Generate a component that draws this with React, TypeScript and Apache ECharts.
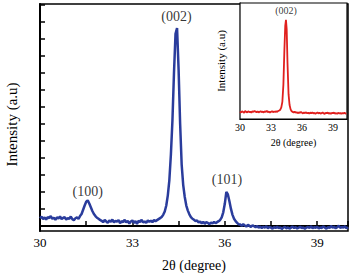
import React, { useEffect, useRef } from "react";
import * as echarts from "echarts";

// Main pattern: sampled every 0.05° from 30° to 40°, intensity (a.u.)
const mainStart = 30;
const mainStep = 0.05;
const mainIntensity = [
  0.45,0.55,0.4,0.5,0.38,0.52,0.46,0.58,0.42,0.48,0.36,0.5,0.44,0.56,0.4,0.47,0.52,0.38,0.46,0.42,0.55,0.4,0.34,0.45,0.5,0.42,0.58,
  0.7,0.95,1.2,1.42,1.5,1.32,1.1,0.88,0.7,0.58,0.48,0.42,0.35,
  0.3,0.22,0.35,0.26,0.18,0.32,0.24,0.38,0.2,0.3,0.25,0.34,0.16,0.28,0.22,0.36,0.2,0.3,0.14,0.26,0.32,0.18,0.28,0.12,0.3,0.22,0.36,0.2,0.26,0.18,0.32,0.24,0.3,0.22,0.35,0.28,0.34,0.4,
  0.46,0.52,0.65,0.85,1.2,1.8,2.7,4.2,6.2,9.0,11.3,11.65,9.2,6.0,3.6,2.4,1.7,1.2,0.9,0.68,0.52,0.42,
  0.36,0.28,0.32,0.2,0.26,0.15,0.24,0.12,0.22,0.18,0.1,0.2,0.14,0.24,0.16,0.22,0.28,0.35,
  0.5,0.8,1.3,2.0,1.85,1.45,1.0,0.65,0.42,0.28,0.18,0.1,
  0.08,0.0,0.1,0.02,-0.04,0.06,0.0,-0.06,0.04,-0.02,
  -0.08,0.0,-0.1,-0.04,-0.12,-0.05,-0.1,-0.02,-0.14,-0.06,
  -0.1,-0.16,-0.08,-0.12,-0.04,-0.14,-0.08,-0.18,-0.1,-0.06,
  -0.14,-0.09,-0.16,-0.1,-0.04,-0.12,-0.08,-0.15,-0.1,-0.05,
  -0.13,-0.08,-0.17,-0.1,-0.06,-0.12,-0.02,-0.14,-0.08,-0.11,
  -0.05,-0.15,-0.09,-0.12,-0.03,-0.1,-0.16,-0.07,-0.12,0.0,
  -0.1,-0.05,-0.14,-0.08,0.02,-0.12,-0.06,-0.1,-0.02,-0.14,-0.08,
];

// Inset pattern
const insetTheta = [30.0,30.1,30.2,30.3,30.4,30.5,30.6,30.7,30.8,30.9,31.0,31.1,31.2,31.3,31.4,31.5,31.6,31.7,31.8,31.9,32.0,32.1,32.2,32.3,32.4,32.5,32.6,32.7,32.8,32.9,33.0,33.1,33.2,33.3,33.4,33.5,33.6,33.7,33.8,33.9,34.0,34.1,34.2,34.3,34.38,34.45,34.52,34.6,34.7,34.8,34.9,35.0,35.1,35.2,35.3,35.4,35.5,35.6,35.7,35.8,35.9,36.0,36.1,36.2,36.3,36.4,36.5,36.6,36.7,36.8,36.9,37.0,37.1,37.2,37.3,37.4,37.5,37.6,37.7,37.8,37.9,38.0,38.1,38.2,38.3,38.4,38.5,38.6,38.7,38.8,38.9,39.0,39.1,39.2,39.3,39.4,39.5,39.6,39.7,39.8,39.9,40.0,40.1,40.2,40.3];
const insetIntensity = [0.48,0.42,0.5,0.45,0.4,0.52,0.46,0.43,0.5,0.44,0.47,0.41,0.5,0.46,0.52,0.48,0.43,0.49,0.42,0.47,0.5,0.44,0.48,0.42,0.5,0.46,0.53,0.44,0.48,0.42,0.47,0.5,0.44,0.49,0.45,0.5,0.46,0.52,0.55,0.6,0.75,1.1,2.2,4.5,6.0,6.4,5.8,3.6,1.6,0.9,0.62,0.5,0.46,0.42,0.48,0.4,0.44,0.38,0.42,0.4,0.45,0.4,0.36,0.42,0.38,0.43,0.37,0.4,0.35,0.41,0.37,0.42,0.36,0.4,0.34,0.39,0.42,0.36,0.4,0.35,0.38,0.42,0.36,0.33,0.4,0.37,0.41,0.35,0.38,0.34,0.4,0.37,0.41,0.35,0.38,0.33,0.4,0.36,0.39,0.34,0.38,0.36,0.4,0.35,0.38];

// Peak annotations
const peakLabels = ["(100)", "(002)", "(101)"];
const peakLabelTheta = [31.55, 34.43, 36.07];
const peakLabelY = [2.0, 12.3, 2.75];
const insetLabel = ["(002)"];
const insetLabelTheta = [34.45];
const insetLabelY = [6.97];

const mainTicks = [0,1,2,3,4,5,6,7,8,9,10,11,12,13];
const xTickLabels = [30, 33, 36, 39];

const FONT = "Liberation Serif";

export default function App() {
  const ref = useRef<HTMLDivElement>(null);
  useEffect(() => {
    if (!ref.current) return;
    const chart = echarts.init(ref.current, null, { renderer: "svg" });
    const axisLine = { lineStyle: { color: "#000", width: 2 } };
    chart.setOption({
      animation: false,
      backgroundColor: "#fff",
      textStyle: { fontFamily: FONT },
      grid: [
        { left: 40, right: 1, top: 4, bottom: 42, show: true, borderColor: "#000", borderWidth: 1.5, z: 0, containLabel: false, outerBoundsMode: "none" },
        { left: 240, right: 2, top: 3, bottom: 154, show: true, backgroundColor: "#fff", borderColor: "#000", borderWidth: 1.2, z: 5, containLabel: false, outerBoundsMode: "none" },
      ],
      xAxis: [
        {
          gridIndex: 0, type: "value", min: 30, max: 40, interval: 1.5,
          name: "2θ (degree)", nameLocation: "middle", nameGap: 27,
          nameTextStyle: { fontFamily: FONT, fontSize: 14, color: "#000" },
          axisLine, splitLine: { show: false },
          axisTick: { inside: true, length: 5, lineStyle: { color: "#000", width: 1.5 } },
          axisLabel: {
            fontFamily: FONT, fontSize: 13, color: "#000", margin: 5,
            customValues: xTickLabels,
            formatter: (v: number) => String(Math.round(v)),
          },
        },
        {
          gridIndex: 1, type: "value", min: 30, max: 40.36, interval: 3,
          name: "2θ (degree)", nameLocation: "middle", nameGap: 18,
          nameTextStyle: { fontFamily: FONT, fontSize: 10, color: "#000" },
          axisLine: { lineStyle: { color: "#000", width: 1.2 } }, splitLine: { show: false },
          axisTick: { inside: true, length: 3, lineStyle: { color: "#000" } },
          axisLabel: { fontFamily: FONT, fontSize: 10, color: "#000", margin: 3, showMaxLabel: false },
        },
      ],
      yAxis: [
        {
          gridIndex: 0, type: "value", min: -0.3, max: 13.06,
          name: "Intensity (a.u)", nameLocation: "middle", nameGap: 21,
          nameTextStyle: { fontFamily: FONT, fontSize: 15, color: "#000", padding: [0, 14, 0, 0] },
          axisLine, splitLine: { show: false },
          axisTick: { inside: true, length: 5, customValues: mainTicks, lineStyle: { color: "#000", width: 1.5 } },
          axisLabel: { show: false },
        },
        {
          gridIndex: 1, type: "value", min: 0, max: 7.48, interval: 1,
          name: "Intensity (a.u)", nameLocation: "middle", nameGap: 14,
          nameTextStyle: { fontFamily: FONT, fontSize: 11, color: "#000" },
          axisLine: { lineStyle: { color: "#000", width: 1.2 } }, splitLine: { show: false },
          axisTick: { inside: true, length: 3, lineStyle: { color: "#000" } },
          axisLabel: { show: false },
        },
      ],
      series: [
        {
          type: "line", xAxisIndex: 0, yAxisIndex: 0, showSymbol: false, symbol: "none",
          data: mainIntensity.map((v, i) => [mainStart + i * mainStep, v]),
          lineStyle: { color: "#2a3c9c", width: 2.5 }, z: 2,
        },
        {
          type: "scatter", xAxisIndex: 0, yAxisIndex: 0, symbolSize: 1,
          itemStyle: { color: "transparent" },
          data: peakLabelTheta.map((t, i) => ({ value: [t, peakLabelY[i]], name: peakLabels[i] })),
          label: { show: true, position: "inside", formatter: (p: any) => p.name, fontFamily: FONT, fontSize: 14, color: "#000" },
          z: 3,
        },
        {
          type: "line", xAxisIndex: 1, yAxisIndex: 1, showSymbol: false, symbol: "none",
          data: insetTheta.map((t, i) => [t, insetIntensity[i]]),
          lineStyle: { color: "#e0201e", width: 1.8 }, z: 6,
        },
        {
          type: "scatter", xAxisIndex: 1, yAxisIndex: 1, symbolSize: 1,
          itemStyle: { color: "transparent" },
          data: insetLabelTheta.map((t, i) => ({ value: [t, insetLabelY[i]], name: insetLabel[i] })),
          label: { show: true, position: "inside", formatter: (p: any) => p.name, fontFamily: FONT, fontSize: 10, color: "#000" },
          z: 7,
        },
      ],
    });
    return () => chart.dispose();
  }, []);
  return <div ref={ref} style={{ width: 349, height: 273, position: "absolute", left: 0, top: 0 }} />;
}
